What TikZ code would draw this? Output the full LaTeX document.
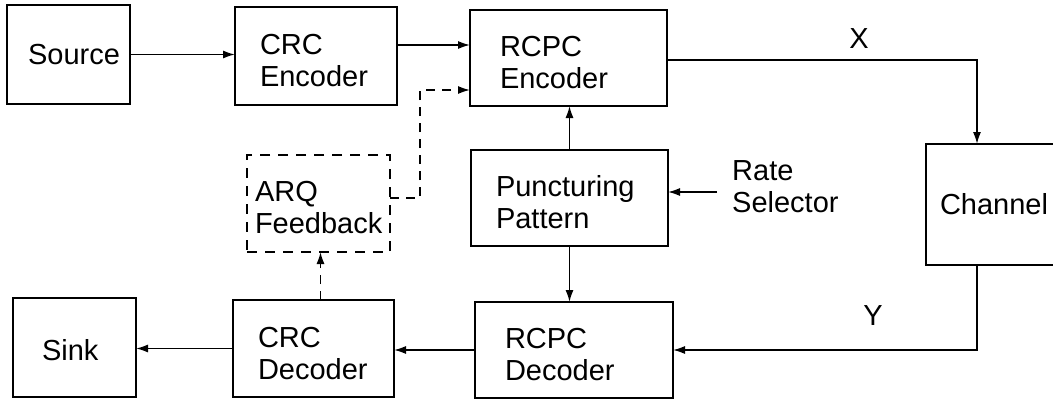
\documentclass[tikz,border=0pt]{standalone}
\usepackage{fontspec}
\newfontfamily\lbl{Liberation Sans}
\usetikzlibrary{arrows.meta}

% a tall strut on the first line lowers a label a little in its box
\newcommand\upline[1][30pt]{\rule{0pt}{#1}}

\begin{document}
\begin{tikzpicture}[x=1pt,y=-1pt,
  txt/.style={font={\lbl\fontsize{29}{32}\selectfont}},
  blk/.style={txt, draw, line width=2pt, rectangle, align=left,
    inner xsep=0pt, inner ysep=0pt, outer sep=0pt},
  dblk/.style={blk, line width=1.8pt, dash pattern=on 10pt off 8pt},
  conn/.style={line width=1.6pt, -{Latex[length=12pt,width=8pt]}},
  fb/.style={conn, dash pattern=on 9pt off 7pt}]

\useasboundingbox (0,0) rectangle (1053,399);
\clip (0,0) rectangle (1053,399);

% blocks of the transmitter chain
\node[blk, minimum width=123pt, minimum height=99pt, text width=103pt, align=right]
  (src) at (68.5,54.5) {Source};
\node[blk, minimum width=162pt, minimum height=98pt, text width=112pt]
  (crcenc) at (316,56) {\upline CRC\\Encoder};
\node[blk, minimum width=197pt, minimum height=96pt, text width=137pt]
  (rcpcenc) at (568.5,58) {\upline RCPC\\Encoder};
\node[blk, minimum width=197pt, minimum height=96pt, text width=147pt]
  (punct) at (569.5,198) {\upline Puncturing\\Pattern};
\node[dblk, minimum width=143pt, minimum height=97pt, text width=127pt]
  (arq) at (318.5,203.5) {\upline[28pt]ARQ\\Feedback};

% the channel box runs past the right edge
\node[blk, minimum width=144pt, minimum height=121pt, text width=116pt]
  (chan) at (998,204.5) {Channel};

% blocks of the receiver chain
\node[blk, minimum width=123pt, minimum height=99pt, text width=65pt]
  (sink) at (74.5,347.5) {\upline[26pt]Sink};
\node[blk, minimum width=161pt, minimum height=97pt, text width=111pt]
  (crcdec) at (313.5,348.5) {\upline CRC\\Decoder};
\node[blk, minimum width=198pt, minimum height=96pt, text width=138pt]
  (rcpcdec) at (574,350) {\upline RCPC\\Decoder};

% free labels
\node[txt, align=left, inner sep=0pt, anchor=north west]
  (rate) at (732,160) {Rate\\Selector};
\node[txt, inner sep=0pt] (xlab) at (859,38.5) {X};
\node[txt, inner sep=0pt] (ylab) at (873,316) {Y};

\coordinate (rs) at (717,192);
\coordinate (fbk) at (420,90);

% connectors
\draw[conn] (src.east) -- (src.east -| crcenc.west);
\draw[conn] ([yshift=11pt]crcenc.east) -- ([yshift=11pt]crcenc.east -| rcpcenc.west);
\draw[fb] ([yshift=5.5pt]arq.east) -| (fbk) -- (fbk -| rcpcenc.west);
\draw[conn] (punct.north) -- (punct.north |- rcpcenc.south);
\draw[conn] (rs) -- (rs -| punct.east);
\draw[conn] ([yshift=-2pt]rcpcenc.east) -| ([xshift=-21pt]chan.north);
\draw[conn] ([xshift=-21pt]chan.south) |- (rcpcdec.east);
\draw[conn] (punct.south) -- (punct.south |- rcpcdec.north);
\draw[conn] (rcpcdec.west) -- (rcpcdec.west -| crcdec.east);
\draw[conn] (crcdec.west) -- (crcdec.west -| sink.east);
\draw[fb] ([xshift=7pt]crcdec.north) -- ([xshift=7pt]crcdec.north |- arq.south);

\end{tikzpicture}
\end{document}
